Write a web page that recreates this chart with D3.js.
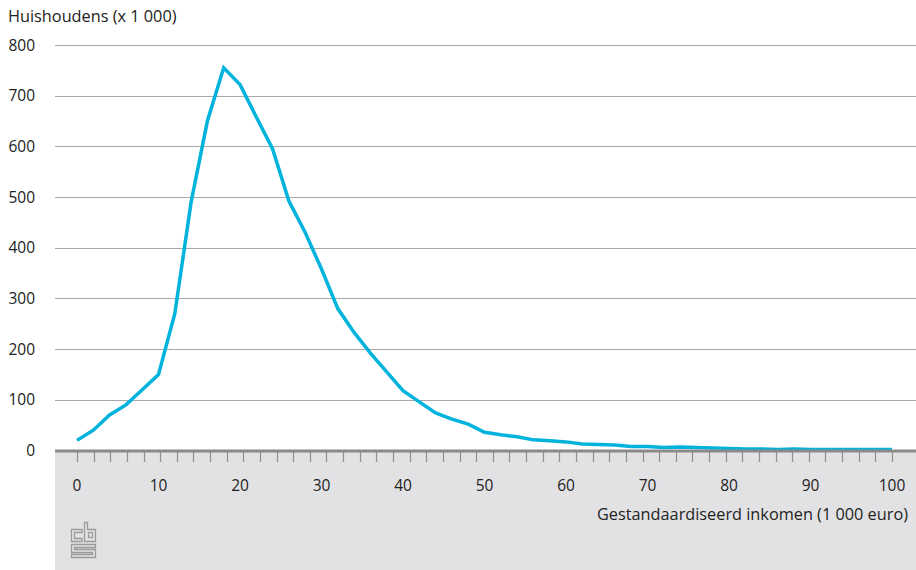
<!DOCTYPE html>
<html>
<head>
<meta charset="utf-8">
<script src="https://cdn.jsdelivr.net/npm/d3@7"></script>
<style>
  html, body { margin: 0; padding: 0; background: #fff; }
  svg { display: block; font-family: "Open Sans", "Noto Sans", sans-serif; }
</style>
</head>
<body>
<svg id="chart" width="916" height="570"></svg>
<script>
// ---- data ----
const incomes = [0,2,4,6,8,10,12,14,16,18,20,22,24,26,28,30,32,34,36,38,40,42,44,46,48,50,
                 52,54,56,58,60,62,64,66,68,70,72,74,76,78,80,82,84,86,88,90,92,94,96,98,100];
const households = [20,40,70,90,120,150,270,490,650,755,722,658,595,492,430,358,280,233,192,155,118,96,74,62,52,36,
                    31,27,21,19,17,13,12,11,8,8,6,7,6,5,4,3,3,2,3,2,2,2,2,2,2];
const yTicks = [0,100,200,300,400,500,600,700,800];
const xLabels = [0,10,20,30,40,50,60,70,80,90,100];
const minorTickCount = 50;
const yTitle = "Huishoudens (x 1 000)";
const xTitle = "Gestandaardiseerd inkomen (1 000 euro)";

// ---- layout ----
const W = 916, H = 570;
const plotLeft = 55, plotRight = 916;
const x = d3.scaleLinear().domain([0, 100]).range([77, 892]);
const y = d3.scaleLinear().domain([0, 800]).range([450.5, 45]);

const svg = d3.select("#chart");

// grey band under axis
svg.append("rect").attr("x", plotLeft).attr("y", 451).attr("width", plotRight - plotLeft).attr("height", H - 451)
  .attr("fill", "#e2e2e4");

// gridlines
svg.append("g").selectAll("line").data(yTicks.filter(d => d > 0)).join("line")
  .attr("x1", plotLeft).attr("x2", plotRight)
  .attr("y1", d => Math.round(y(d)) + 0.5).attr("y2", d => Math.round(y(d)) + 0.5)
  .attr("stroke", "#a8a8a8").attr("stroke-width", 1);

// y labels
svg.append("g").selectAll("text").data(yTicks).join("text")
  .attr("x", 35).attr("y", d => y(d) + 5.5)
  .attr("text-anchor", "end").attr("font-size", 15.5).attr("fill", "#222")
  .text(d => d);

// y title
svg.append("text").attr("x", 8).attr("y", 22).attr("font-size", 16.3).attr("fill", "#222").text(yTitle);

// minor ticks
const tickScale = d3.scaleLinear().domain([0, minorTickCount - 1]).range(x.range());
svg.append("g").selectAll("line").data(d3.range(minorTickCount)).join("line")
  .attr("x1", d => Math.round(tickScale(d)) + 0.5).attr("x2", d => Math.round(tickScale(d)) + 0.5)
  .attr("y1", 451).attr("y2", 462)
  .attr("stroke", "#8f8f8f").attr("stroke-width", 1.2);

// x labels
svg.append("g").selectAll("text").data(xLabels).join("text")
  .attr("x", d => x(d)).attr("y", 491)
  .attr("text-anchor", "middle").attr("font-size", 15.5).attr("fill", "#222")
  .text(d => d);

// x title
svg.append("text").attr("x", 908).attr("y", 520).attr("text-anchor", "end")
  .attr("font-size", 16.3).attr("fill", "#222").text(xTitle);

// line
const line = d3.line().x((d, i) => x(incomes[i])).y(d => y(d));
svg.append("path").datum(households).attr("d", line)
  .attr("fill", "none").attr("stroke", "#00b3dc").attr("stroke-width", 3.5)
  .attr("stroke-linejoin", "miter");

// axis line
svg.append("line").attr("x1", plotLeft).attr("x2", plotRight).attr("y1", 451).attr("y2", 451)
  .attr("stroke", "#8a8a8a").attr("stroke-width", 3);

// cbs logo (approximate)
const logo = svg.append("g").attr("fill", "none").attr("stroke", "#9a9a9a").attr("stroke-width", 1.3);
// c
logo.append("path").attr("d", "M82,529.5 H71.5 V541.5 H82 V538.5 H74.5 V532.5 H82 Z");
// b
logo.append("path").attr("d", "M84.5,522.5 H87.5 V529.5 H95.5 V541.5 H84.5 Z");
logo.append("rect").attr("x", 88.5).attr("y", 532.5).attr("width", 4).attr("height", 5);
// s
logo.append("path").attr("d", "M71.5,544.5 H95.5 V547.5 H74.5 V549.5 H95.5 V557.5 H71.5 V554.5 H92.5 V552.5 H71.5 Z");
</script>
</body>
</html>
